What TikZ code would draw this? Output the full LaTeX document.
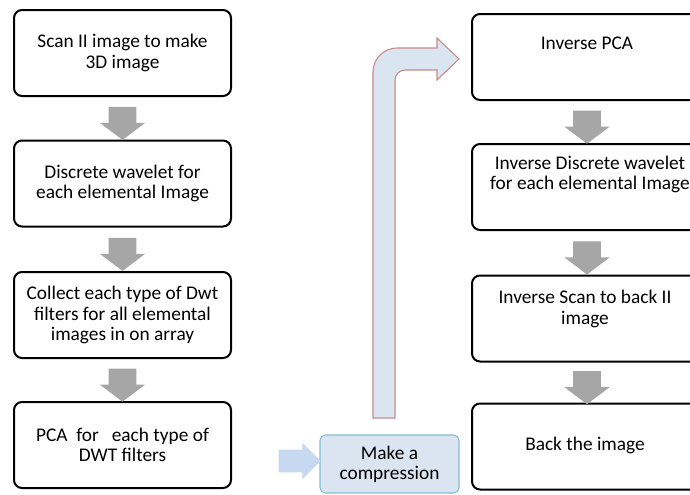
\documentclass[tikz,border=0pt]{standalone}
\usepackage{fontspec}
\setmainfont{Carlito}
\usetikzlibrary{shapes.arrows,calc}
\definecolor{flowgray}{HTML}{A6A6A6}
\definecolor{compfill}{HTML}{DBE5F1}
\definecolor{compline}{HTML}{7FC0D0}
\definecolor{feedfill}{HTML}{C6D9F1}
\definecolor{bendline}{HTML}{C98A88}
\begin{document}
\begin{tikzpicture}[x=0.75pt,y=-0.75pt,
  font=\fontsize{14.5}{15.2}\selectfont,
  stepbox/.style={draw=black, line width=1.5pt, rounded corners=6pt, fill=white,
    align=center, inner sep=0pt},
  leftbox/.style={stepbox, minimum width=162.75pt, minimum height=64.5pt},
  rightbox/.style={stepbox, minimum width=172.5pt, minimum height=64.5pt},
  steptext/.style={align=center, inner sep=0pt},
  downarrow/.style={single arrow, fill=flowgray, draw=none, rotate=-90,
    minimum height=24.75pt, inner xsep=0pt, inner ysep=10.125pt,
    single arrow head extend=6.75pt, single arrow tip angle=106},
  feedarrow/.style={single arrow, fill=feedfill, draw=none,
    minimum height=31.5pt, inner xsep=0pt, inner ysep=8.25pt,
    single arrow head extend=5.25pt, single arrow tip angle=90},
  compbox/.style={draw=compline, line width=0.8pt, fill=compfill, rounded corners=4pt,
    align=center, minimum width=104.25pt, minimum height=43.5pt, inner sep=0pt},
  bentarrow/.style={draw=bendline, line width=0.8pt, fill=compfill}
]
\useasboundingbox (0,0) rectangle (690,494);

% forward chain
\node[leftbox] (l1) at (122.5,53) {Scan II image to make\\3D image};
\node[leftbox] (l2) at (122.5,183.5) {Discrete wavelet for\\each elemental Image};
\node[leftbox] (l3) at (122.5,315) {Collect each type of Dwt\\filters for all elemental\\images in on array};
\node[leftbox] (l4) at (122.5,445) {PCA\ \ for\ \ \ each type of\\DWT filters};

\node[downarrow] (a1) at ($(l1.south)!0.5!(l2.north)$) {};
\node[downarrow] (a2) at ($(l2.south)!0.5!(l3.north)$) {};
\node[downarrow] (a3) at ($(l3.south)!0.5!(l4.north)$) {};

% compression step
\node[compbox] (comp) at (389.5,464) {Make a\\compression};
\node[feedarrow] (feed) at (294,461) {};

% inverse chain
\node[rightbox] (r1) at (587,57) {};
\node[rightbox] (r2) at (587,187) {};
\node[rightbox] (r3) at (587,318.5) {};
\node[rightbox] (r4) at (587,446.5) {};
\node[steptext] (r1t) at (587,43) {Inverse PCA};
\node[steptext] (r2t) at (590,174.5) {Inverse Discrete wavelet\\for each elemental Image};
\node[steptext] (r3t) at (585,309) {Inverse Scan to back II\\image};
\node[steptext] (r4t) at (585,445) {Back the image};

\node[downarrow] (b1) at ($(r1.south)!0.5!(r2.north)$) {};
\node[downarrow] (b2) at ($(r2.south)!0.5!(r3.north)$) {};
\node[downarrow] (b3) at ($(r3.south)!0.5!(r4.north)$) {};

% bent arrow from the compression up to the inverse chain
\draw[bentarrow] (373,418) -- (373,72) arc[start angle=180, end angle=90, radius=18pt]
  -- (437,48) -- (437,38) -- (459,59) -- (437,80) -- (437,70) -- (405,70)
  arc[start angle=90, end angle=180, radius=7.5pt] -- (395,418) -- cycle;
\end{tikzpicture}
\end{document}
